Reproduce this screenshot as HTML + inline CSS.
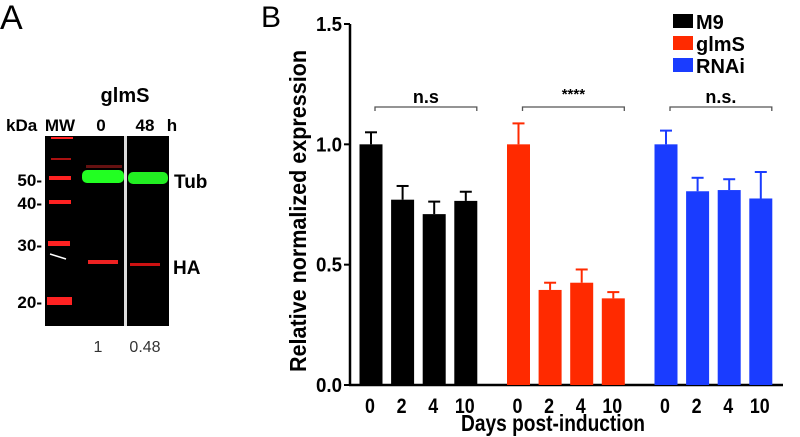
<!DOCTYPE html>
<html><head><meta charset="utf-8"><style>
html,body{margin:0;padding:0;background:#fff;width:800px;height:437px;overflow:hidden}
svg{display:block;font-family:"Liberation Sans",Arial,sans-serif}
</style></head><body>
<svg id="fig" width="800" height="437" viewBox="0 0 800 437">
<g>
<text x="0" y="29" font-size="34">A</text>
<text x="125" y="102" font-size="20" font-weight="bold" text-anchor="middle">glmS</text>
<text x="6" y="131" font-size="17" font-weight="bold">kDa</text>
<text x="60" y="131" font-size="17" font-weight="bold" text-anchor="middle">MW</text>
<text x="101" y="131" font-size="17" font-weight="bold" text-anchor="middle">0</text>
<text x="145" y="131" font-size="17" font-weight="bold" text-anchor="middle">48</text>
<text x="172" y="131" font-size="17" font-weight="bold" text-anchor="middle">h</text>
<rect x="45" y="136" width="124" height="190" fill="#000"/>
<rect x="124" y="136" width="3" height="190" fill="#ddd"/>
<g fill="#f22">
<rect x="51" y="137" width="22" height="2"/><rect x="51" y="158" width="20" height="2" fill="#a11"/>
<rect x="49" y="176" width="22" height="4"/><rect x="49" y="200" width="22" height="4"/>
<rect x="48" y="241" width="22" height="5"/><rect x="47" y="297" width="25" height="8"/>
</g>
<path d="M50 254 L66 259" stroke="#fff" stroke-width="1.5"/>
<rect x="82" y="170" width="42" height="13" rx="5" fill="#2f2"/>
<rect x="128" y="172" width="40" height="12" rx="5" fill="#2e2"/>
<rect x="86" y="165" width="36" height="3" fill="#611"/>
<rect x="88" y="260" width="30" height="4" fill="#e22"/>
<rect x="130" y="263" width="30" height="3" fill="#c11"/>
<g font-size="17" font-weight="bold" text-anchor="end">
<text x="42" y="186">50-</text><text x="42" y="209">40-</text><text x="42" y="251">30-</text><text x="42" y="308">20-</text>
</g>
<text x="174" y="188" font-size="19" font-weight="bold">Tub</text>
<text x="173" y="274" font-size="19" font-weight="bold">HA</text>
<text x="98" y="352" font-size="16" fill="#333" text-anchor="middle">1</text>
<text x="145" y="352" font-size="16" fill="#333" text-anchor="middle">0.48</text>
</g>
<g id="chart">
<text x="261" y="27" font-size="30">B</text>
</g>
</svg>
<script>
const groups=['M9','glmS','RNAi'];
const colors=['#000000','#ff2a00','#1a3cff'];
const days=['0','2','4','10'];
const m9Values=[1.0,0.77,0.71,0.765];
const m9Errors=[0.05,0.057,0.052,0.038];
const glmsValues=[1.0,0.395,0.425,0.36];
const glmsErrors=[0.087,0.03,0.055,0.026];
const rnaiValues=[1.0,0.805,0.81,0.775];
const rnaiErrors=[0.057,0.056,0.045,0.11];
const yTicks=[0.0,0.5,1.0,1.5];
const sigLabels=['n.s','****','n.s.'];
const values=[m9Values,glmsValues,rnaiValues];
const errors=[m9Errors,glmsErrors,rnaiErrors];
const NS='http://www.w3.org/2000/svg';
const g=document.getElementById('chart');
const x0=350,x1=783,yb=385,yt=24;
const y=v=>yb-(v/1.5)*(yb-yt);
const barX=(gi,di)=>371+gi*147.5+di*31.6;
const bw=23;
function mk(t,a){const e=document.createElementNS(NS,t);for(const k in a)e.setAttribute(k,a[k]);g.appendChild(e);return e;}
let e=mk('line',{x1:x0,y1:yt,x2:x0,y2:yb,stroke:'#000','stroke-width':2.5});


e=mk('line',{x1:x0-1,y1:yb,x2:x1,y2:yb,stroke:'#000','stroke-width':2.5});


yTicks.forEach(t=>{
 let l=mk('line',{x1:x0-6,y1:y(t),x2:x0,y2:y(t),stroke:'#000','stroke-width':2});
 
 
 let tx=mk('text',{x:x0-8,y:y(t)+7,'font-size':20,'font-weight':'bold','text-anchor':'end',textLength:26,lengthAdjust:'spacingAndGlyphs'});
 tx.textContent=t.toFixed(1);
 
 
});
values.forEach((vals,gi)=>{
 vals.forEach((v,di)=>{
  const cx=barX(gi,di),top=y(v+errors[gi][di]);
  let el=mk('line',{x1:cx,y1:y(v),x2:cx,y2:top,stroke:colors[gi],'stroke-width':2});
  
  
  el=mk('line',{x1:cx-6,y1:top,x2:cx+6,y2:top,stroke:colors[gi],'stroke-width':2});
  
  
  el=mk('rect',{x:cx-bw/2,y:y(v),width:bw,height:yb-y(v),fill:colors[gi]});
  
  
  el=mk('text',{x:cx-1,y:413,'font-size':21,'font-weight':'bold','text-anchor':'middle',transform:`translate(${cx-1} 0) scale(0.85 1) translate(${-(cx-1)} 0)`});
  el.textContent=days[di];
  
  
 });
 const bx1=barX(gi,0)+4,bx2=barX(gi,3)+11,by=107;
 let br=mk('path',{d:`M${bx1} ${by+4}V${by}H${bx2}V${by+4}`,fill:'none',stroke:'#555','stroke-width':1.3});
 
 
 let st=mk('text',{x:(bx1+bx2)/2,y:gi==1?99:103,'font-size':gi==1?15:18,'font-weight':'bold','text-anchor':'middle'});
 st.textContent=sigLabels[gi];
 
 
 let sw=mk('rect',{x:673,y:14+gi*22,width:20,height:14,fill:colors[gi]});
 
 
 let lt=mk('text',{x:696,y:29+gi*22,'font-size':20,'font-weight':'bold'});
 lt.textContent=groups[gi];
 
 
});
let yl=mk('text',{x:0,y:0,'font-size':23,'font-weight':'bold','text-anchor':'middle',textLength:322,lengthAdjust:'spacingAndGlyphs',transform:'translate(306,211) rotate(-90)'});
yl.textContent='Relative normalized expression';


let xl=mk('text',{x:553,y:431,'font-size':23,'font-weight':'bold','text-anchor':'middle',textLength:184,lengthAdjust:'spacingAndGlyphs'});
xl.textContent='Days post-induction';


</script>
</body></html>
